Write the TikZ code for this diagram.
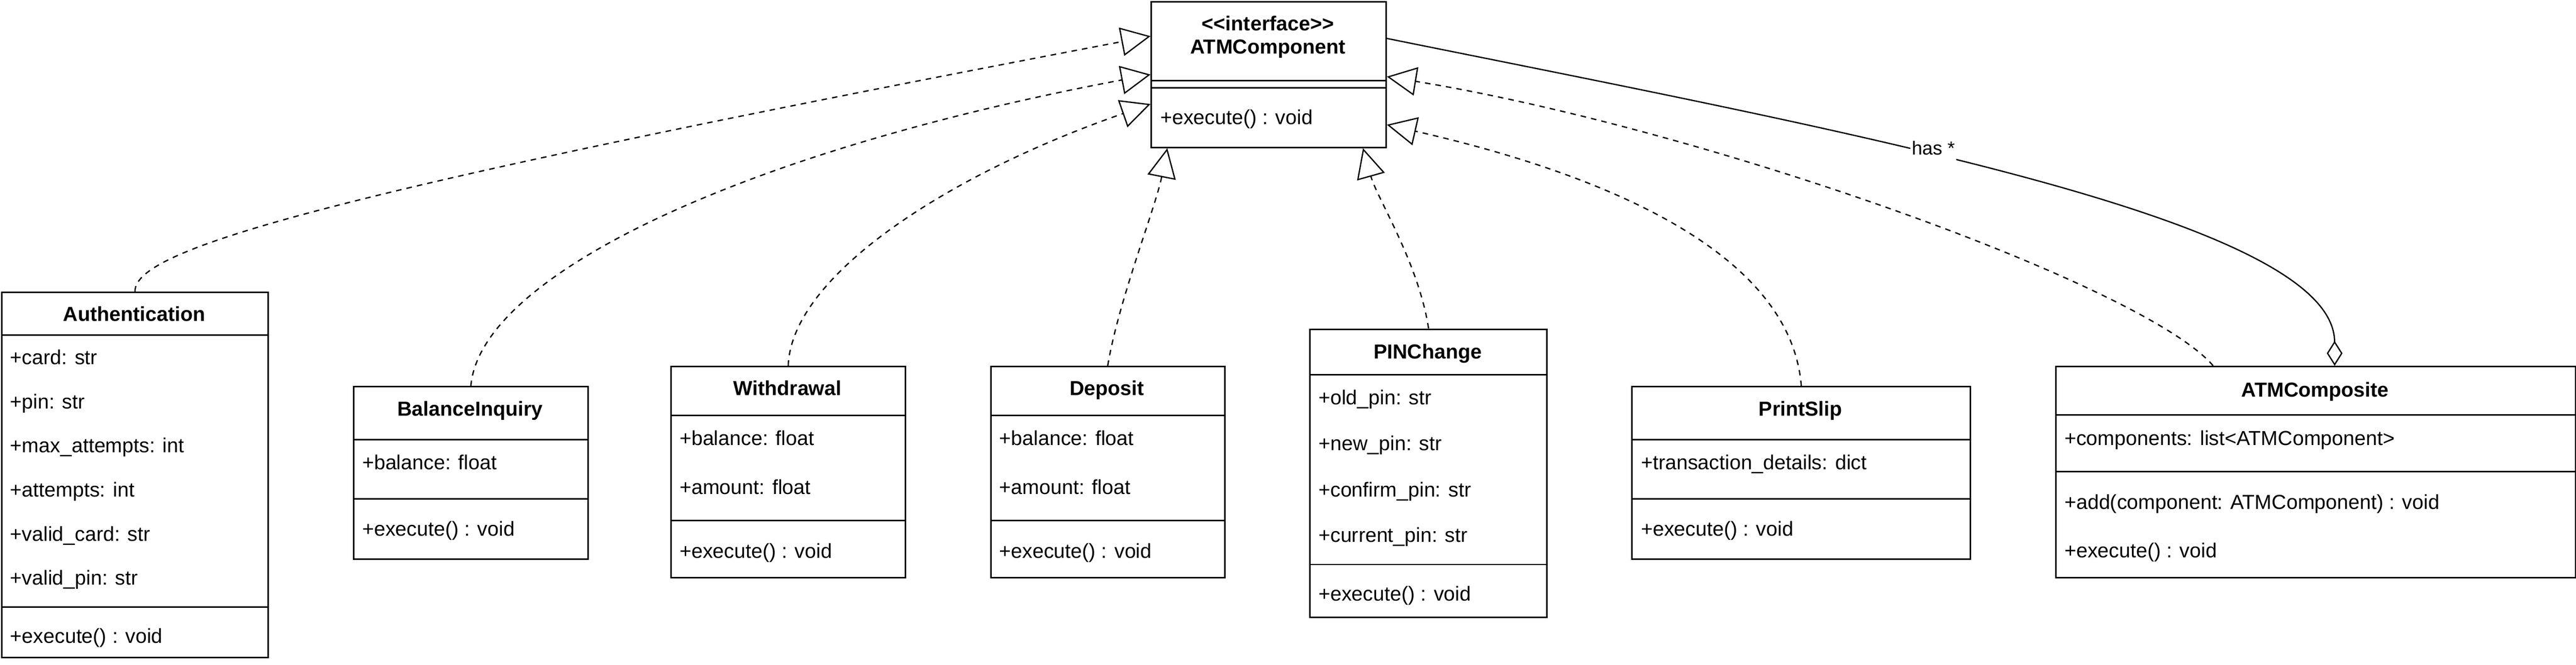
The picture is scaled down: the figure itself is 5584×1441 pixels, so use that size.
\documentclass[tikz,border=0pt]{standalone}
\usepackage{fontspec}
\setmainfont{Liberation Sans}
\usetikzlibrary{arrows.meta}
\begin{document}
\begin{tikzpicture}[x=1pt,y=-1pt,
  cls/.style={draw, line width=3.3pt, rectangle, inner sep=0pt, fill=white, anchor=north west},
  divl/.style={line width=3.3pt},
  ttl/.style={font=\bfseries\fontsize{44}{52}\selectfont, anchor=base, inner sep=0pt},
  mem/.style={font=\fontsize{44}{52}\selectfont, anchor=base west, inner sep=0pt},
  realize/.style={line width=2.8pt, dash pattern=on 12pt off 11pt, -{Triangle[open, length=64pt, width=62pt]}},
  assoc/.style={line width=2.8pt, -{Diamond[open, length=54pt, width=34pt]}},
  lbl/.style={font=\fontsize{41}{49}\selectfont, anchor=base west, inner sep=3pt, text depth=10pt, fill=white}
]
\useasboundingbox (0,0) rectangle (5584,1441);

% ATMComponent (interface)
\node[cls, minimum width=509pt, minimum height=316pt] (comp0) at (2494,2) {};
\draw[divl] (2494,175) -- (3003,175);
\draw[divl] (2494,190) -- (3003,190);
\node[ttl] (comp0t1) at (2748.5,66) {{<}{<}interface{>}{>}};
\node[ttl] (comp0t2) at (2748.5,117) {ATMComponent};
\node[mem] (comp0m1) at (2515,270) {+execute() : void};

% Authentication
\node[cls, minimum width=578pt, minimum height=792pt] (auth) at (2,632) {};
\draw[divl] (2,726) -- (580,726);
\draw[divl] (2,1316) -- (580,1316);
\node[ttl] (autht) at (291,696) {Authentication};
\node[mem] (autha1) at (22,790) {+card: str};
\node[mem] (autha2) at (22,886) {+pin: str};
\node[mem] (autha3) at (22,981) {+max\_attempts: int};
\node[mem] (autha4) at (22,1077) {+attempts: int};
\node[mem] (autha5) at (22,1173) {+valid\_card: str};
\node[mem] (autha6) at (22,1268) {+valid\_pin: str};
\node[mem] (authm1) at (22,1394) {+execute() : void};

% BalanceInquiry
\node[cls, minimum width=508pt, minimum height=374pt] (bal) at (765,837) {};
\draw[divl] (765,953) -- (1273,953);
\draw[divl] (765,1082) -- (1273,1082);
\node[ttl] (balt) at (1019,902) {BalanceInquiry};
\node[mem] (bala1) at (785,1018) {+balance: float};
\node[mem] (balm1) at (785,1162) {+execute() : void};

% Withdrawal
\node[cls, minimum width=508pt, minimum height=458pt] (wdr) at (1453,793) {};
\draw[divl] (1453,901) -- (1961,901);
\draw[divl] (1453,1129) -- (1961,1129);
\node[ttl] (wdrt) at (1707,857) {Withdrawal};
\node[mem] (wdra1) at (1473,965) {+balance: float};
\node[mem] (wdra2) at (1473,1072) {+amount: float};
\node[mem] (wdrm1) at (1473,1210) {+execute() : void};

% Deposit
\node[cls, minimum width=507pt, minimum height=458pt] (dep) at (2146,793) {};
\draw[divl] (2146,901) -- (2653,901);
\draw[divl] (2146,1129) -- (2653,1129);
\node[ttl] (dept) at (2399.5,857) {Deposit};
\node[mem] (depa1) at (2166,965) {+balance: float};
\node[mem] (depa2) at (2166,1072) {+amount: float};
\node[mem] (depm1) at (2166,1210) {+execute() : void};

% PINChange
\node[cls, minimum width=514pt, minimum height=625pt] (pin) at (2838,712) {};
\draw[divl] (2838,812) -- (3352,812);
\draw[divl] (2838,1224) -- (3352,1224);
\node[ttl] (pint) at (3095,778) {PINChange};
\node[mem] (pina1) at (2858,877) {+old\_pin: str};
\node[mem] (pina2) at (2858,977) {+new\_pin: str};
\node[mem] (pina3) at (2858,1077) {+confirm\_pin: str};
\node[mem] (pina4) at (2858,1175) {+current\_pin: str};
\node[mem] (pinm1) at (2858,1303) {+execute() : void};

% PrintSlip
\node[cls, minimum width=734pt, minimum height=374pt] (ps) at (3536,837) {};
\draw[divl] (3536,953) -- (4270,953);
\draw[divl] (3536,1082) -- (4270,1082);
\node[ttl] (pst) at (3903,902) {PrintSlip};
\node[mem] (psa1) at (3557,1018) {+transaction\_details: dict};
\node[mem] (psm1) at (3557,1162) {+execute() : void};

% ATMComposite
\node[cls, minimum width=1127pt, minimum height=458pt] (comp) at (4455,793) {};
\draw[divl] (4455,900) -- (5582,900);
\draw[divl] (4455,1022) -- (5582,1022);
\node[ttl] (compt) at (5018.5,861) {ATMComposite};
\node[mem] (compa1) at (4475,965) {+components: list{<}ATMComponent{>}};
\node[mem] (compm1) at (4475,1104) {+add(component: ATMComponent) : void};
\node[mem] (compm2) at (4475,1209) {+execute() : void};

% realization connectors
\draw[realize] (auth.north) .. controls (291,540) and (700,420) .. (comp0.162.96);
\draw[realize] (bal.north) .. controls (1040,600) and (1600,330) .. (comp0.180.45);
\draw[realize] (wdr.north) .. controls (1715,600) and (2050,380) .. (comp0.194.96);
\draw[realize] (dep.north) .. controls (2425,650) and (2505,450) .. (comp0.216.89);
\draw[realize] (pin.north) .. controls (3075,570) and (2985,430) .. (comp0.322.98);
\draw[realize] (ps.north) .. controls (3880,520) and (3400,360) .. (comp0.337.97);
\draw[realize] (comp.134.69) .. controls (4650,620) and (3700,280) .. (comp0.359.55);

% aggregation
\draw[assoc] (comp0.17.45) .. controls (4030,290) and (5060,480) .. (comp.80.94);
\node[lbl] (haslbl) at (4141,336) {has *};
\end{tikzpicture}
\end{document}
